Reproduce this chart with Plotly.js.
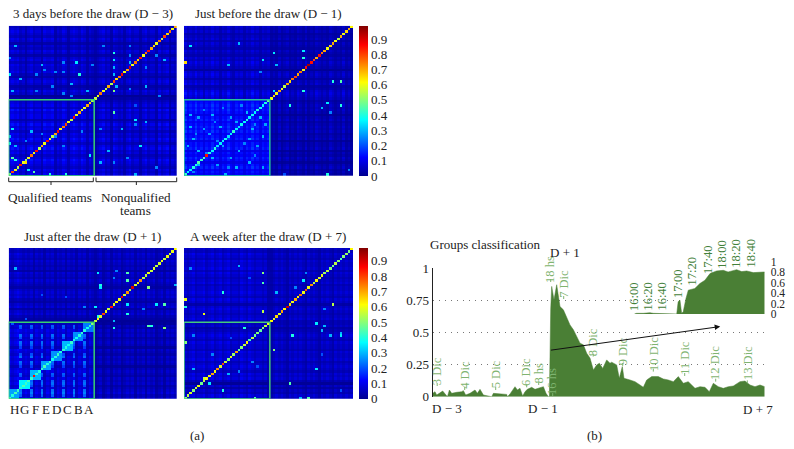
<!DOCTYPE html>
<html><head><meta charset="utf-8">
<script src="https://cdn.plot.ly/plotly-3.0.1.min.js"></script>
<style>html,body{margin:0;padding:0;background:#fff}#c{width:794px;height:449px}
.heatmaplayer image{filter:blur(.45px)}</style></head>
<body><div id="c"></div>
<script>
// ---------- correlation matrices: values ----------
const teamCount = 63, qualifiedCount = 32;
const panelTitles = ['3 days before the draw (D \u2212 3)','Just before the draw (D \u2212 1)','Just after the draw (D + 1)','A week after the draw (D + 7)'];
const colorbarTicks = [0,0.1,0.2,0.3,0.4,0.5,0.6,0.7,0.8,0.9];
const groupLetters = ['H','G','F','E','D','C','B','A'];

// diagonal, bottom-left to top-right
const diagD3 = [.5,.8,.6,.55,.85,.6,.5,.6,.75,.6,.85,.55,.7,.6,.85,.6,.55,.7,.85,.6,.75,.8,.6,.55,.85,.6,.7,.6,.6,.7,.65,.55,
 .55,.6,.75,.6,.55,.7,.55,.8,.65,.75,.85,.6,.7,.9,.6,.75,.65,.85,.6,.75,.85,.7,.65,.6,.75,.55,.8,.65,.75,.6,.7];
const diagD1 = [.42,.36,.36,.4,.4,.45,.42,.45,.85,.4,.36,.4,.34,.36,.36,.38,.34,.36,.42,.36,.34,.38,.36,.4,.36,.38,.36,.4,.38,.36,.4,.48,
 .6,.65,.6,.7,.6,.55,.7,.65,.75,.8,.7,.75,.6,.85,.95,.85,.8,.7,.85,.75,.7,.6,.65,.7,.6,.55,.7,.6,.65,.7,.62];
const diagP1 = [.42,.4,.44,.42,.4,.45,.42,.44,.42,.85,.42,.4,.42,.44,.4,.42,.38,.4,.42,.4,.42,.4,.38,.42,.4,.38,.4,.42,.4,.38,.42,.5,
 .56,.62,.58,.8,.6,.56,.85,.58,.62,.6,.88,.58,.72,.56,.9,.58,.6,.72,.55,.56,.6,.56,.58,.55,.58,.6,.55,.6,.58,.6,.62];
const diagP7 = [.5,.55,.58,.5,.56,.6,.48,.55,.62,.6,.7,.6,.72,.58,.8,.56,.5,.6,.52,.7,.46,.5,.56,.62,.44,.55,.48,.5,.46,.5,.55,.6,
 .62,.58,.65,.6,.7,.62,.92,.65,.6,.7,.62,.75,.6,.78,.6,.72,.55,.62,.58,.6,.52,.55,.5,.48,.55,.5,.44,.5,.52,.48,.62];

// row and column texture levels, rows from the bottom
const rowsD3 = [4,3,4,2,3,4,5,3,2,4,3,5,4,2,4,5,3,4,2,4,3,5,3,1,4,4,3,5,2,4,3,2, 1,0,3,4,2,1,3,4,3,1,2,4,3,3,4,2,4,3,1,3,4,2,3,1,3,4,2,3,4,3,2];
const colsD3 = [3,4,3,4,2,3,1,3,4,2,3,3,1,4,3,3,4,1,3,2,4,3,1,3,4,3,2,4,3,1,3,2, 1,2,3,4,2,3,1,4,3,2,3,1,3,4,2,3,3,1,3,4,2,3,3,1,4,2,3,4,1,3,2];
const rowsD1 = [2,3,2,4,3,1,3,4,2,3,1,4,3,3,1,4,3,2,4,3,4,3,2,4,3,1,3,4,3,4,3,2, 3,4,5,4,2,1,4,3,1,3,4,3,0,2,3,4,2,3,1,2,3,1,2,3,1,3,2,1,3,2,3];
const colsD1 = [4,2,3,2,4,2,3,1,3,2,4,2,3,1,3,2,4,2,1,3,2,3,1,3,2,4,2,3,1,3,2,3, 1,2,1,3,1,2,3,1,2,1,3,2,1,3,1,2,1,3,2,1,2,1,3,2,1,2,1,3,1,2,1];
const rowsP1 = [4,3,5,4,3,2,4,3,4,2,3,4,3,1,3,4,3,4,2,3,4,1,3,4,3,2,4,3,4,2,3,1, 0,1,2,4,3,1,4,3,1,2,4,3,4,3,1,2,3,4,2,3,4,1,3,2,3,4,2,3,4,2,3];
const colsP1 = [3,2,3,4,3,2,3,2,3,1,3,2,3,1,3,2,3,1,3,2,3,1,3,2,3,1,3,2,3,1,3,2, 1,2,3,1,2,3,1,3,2,3,1,2,3,2,3,1,3,2,3,1,3,2,3,1,2,3,1,3,2,3,2];
const rowsP7 = [3,4,2,3,1,3,0,2,4,3,4,2,3,4,3,2,4,3,3,4,2,3,3,4,2,3,4,3,2,1,3,2, 2,4,3,2,3,4,3,1,3,4,2,3,4,3,3,2,4,3,2,3,4,2,4,3,3,4,2,3,4,2,3];
const colsP7 = [3,2,3,4,2,3,3,4,2,3,4,2,3,4,2,3,4,2,3,3,2,4,3,2,4,3,2,3,3,2,3,1, 1,2,3,2,3,2,1,3,2,3,2,3,2,1,3,2,3,2,1,3,2,3,2,1,3,2,3,2,3,2,3];

// extra level of the four quadrants: [qualified/qualified, nonqualified x / qualified y, qualified x / nonqualified y, nonqualified/nonqualified]
const quadD3 = [.02,.01,.01,.01], quadD1 = [.08,.0,.02,.01], quadP1 = [.03,.0,.01,.01], quadP7 = [.01,.01,.01,.01];

// bright off-diagonal cells: [column, row, value]
const spotsD3 = [[2,54,.3],[0,49,.25],[12,46,.3],[20,47,.25],[25,47,.35],[31,46,.25],[39,51,.4],[39,48,.35],[39,45,.3],[45,50,.25],[45,47,.3],[0,42,.35],[26,42,.4],[4,40,.3],[10,42,.25],[13,44,.25],[17,43,.25],[20,43,.25],[39,42,.3],[35,54,.25],[45,54,.25],[55,50,.25],[58,48,.3],[51,45,.25],[39,35,.5],[16,37,.25],[23,38,.3],[29,35,.3],[1,35,.3],[10,35,.25],[20,34,.25],[23,33,.25],[40,37,.3],[45,36,.25],[51,37,.3],[56,33,.25],[47,29,.2],[39,26,.45],[47,23,.35],[51,22,.3],[47,21,.25],[42,19,.3],[34,19,.25],[49,12,.35],[37,10,.3],[34,5,.3],[47,0,.3],[39,5,.25],[44,7,.25],[55,3,.25],[1,19,.35],[0,13,.35],[0,16,.3],[6,5,.65],[5,5,.42],[1,7,.45],[2,6,.4],[7,2,.35],[9,1,.45],[15,0,.4],[21,0,.4],[30,8,.35],[20,12,.25],[17,16,.25],[12,17,.25],[8,18,.3],[6,14,.25],[2,12,.3],[27,18,.25]];
const spotsD1 = [[2,54,.35],[0,47,.65],[20,55,.3],[33,51,.35],[44,52,.35],[44,49,.4],[29,48,.35],[34,46,.3],[16,46,.3],[28,43,.25],[55,39,.4],[58,39,.45],[39,39,.4],[33,35,.35],[44,35,.4],[39,29,.4],[53,30,.35],[51,28,.3],[58,29,.4],[54,26,.25],[53,0,.4],[61,2,.25],[37,0,.2],
 [2,25,.3],[5,24,.28],[10,25,.3],[17,24,.28],[23,26,.3],[28,24,.3],[2,20,.3],[7,19,.28],[13,20,.3],[19,22,.28],[25,19,.3],[30,21,.28],[3,15,.3],[9,17,.28],[15,15,.3],[24,15,.28],[29,16,.3],[1,12,.3],[5,10,.3],[14,12,.28],[20,10,.3],[27,12,.28],[10,7,.3],[17,7,.28],[24,5,.3],[5,4,.3],[15,0,.3],[29,3,.28],[19,3,.3],[12,4,.28],[7,27,.25],[14,28,.25],[21,29,.25],[26,21,.25],[11,22,.25],[4,17,.25],[18,18,.25],[22,13,.25],[8,9,.25],[16,3,.25],[26,8,.25],[3,1,.25],[12,14,.25]];
const spotsP1 = [[2,54,.3],[33,52,.35],[44,52,.45],[44,49,.45],[34,47,.4],[34,46,.35],[39,50,.25],[40,53,.25],[52,46,.5],[62,47,.3],[32,38,.35],[39,39,.4],[44,39,.35],[55,39,.35],[58,39,.45],[50,37,.25],[33,34,.4],[44,35,.4],[39,29,.4],[52,30,.45],[53,30,.4],[58,29,.5],[39,32,.3],[12,43,.2],[21,42,.2],[28,38,.25],[6,33,.2],[1,31,.2]];
const spotsP7 = [[2,54,.25],[20,55,.3],[29,52,.5],[29,48,.45],[24,50,.2],[14,44,.4],[0,41,.6],[0,38,.4],[7,35,.6],[29,36,.55],[44,49,.35],[45,52,.25],[34,44,.3],[41,46,.25],[55,39,.55],[52,37,.25],[49,31,.35],[52,30,.3],[51,28,.3],[22,29,.4],[40,26,.4],[54,26,.3],[58,26,.35],[58,27,.3],[0,23,.5],[3,26,.25],[33,20,.5],[49,12,.35],[51,18,.2],[39,6,.45],[46,0,.45],[43,0,.3],[26,0,.45],[14,3,.4],[7,8,.55],[9,6,.35],[3,12,.3],[16,10,.3],[20,11,.25],[10,18,.25],[17,25,.2],[25,15,.25],[27,13,.2],[58,3,.2]];

// D + 1 only: the eight groups along the diagonal and the dashed columns between them
const groupBlockLevels = [.28,.36,.3,.28,.26,.3,.26,.24];
const dashedColumns = [4,8,12,16,20,24,28];
const dashedRows = [1,2,3,5,6,7,9,10,13,14,15,17,18,21,22,23,25,26,29,30];

// ---------- area chart ----------
const areaPos = [0,2.3,4,7.3,10,13.3,14.7,16.7,19,24,29,30.7,33,37.3,42.3,44.7,47.3,50.7,57.3,59,60.7,67.3,74,74.7,77.3,82.3,84.7,87.3,90,92.3,94.7,99,102.3,107.3,110.7,113.3,115.7,116.7,117,118,119,121.3,124,127.3,130.7,134,137.3,140.7,144,147.3,150.7,154,157.3,160.7,164,166.7,170,174,177.3,179,184,186.6,189.6,191.3,197.3,202.3,207.3,210.6,214,219,225.6,230.6,235.6,240.6,245.6,250.6,255.6,262.3,267.3,272.3,276.6,280.6,285.6,290.6,295.6,300.6,307.3,312.3,317.3,322.3,327.3,332];
const areaVal = [.026,.039,.013,.034,.044,.013,0,.052,.026,.034,.039,.047,.013,.026,.052,.026,.057,.013,.005,0,.026,.021,.018,0,.021,.078,.052,.065,.005,.039,.057,.073,.057,.07,.078,.026,0,0,.36,.68,.857,.753,.87,.70,.675,.61,.558,.52,.468,.416,.403,.338,.30,.208,.247,.26,.22,.286,.26,.268,.247,.143,.234,.143,.13,.117,.091,.073,.13,.156,.156,.138,.13,.117,.156,.104,.117,.065,.078,.073,.039,.104,.078,.065,.078,.083,.117,.122,.091,.078,.091,.078];
const areaTicks = [0,.25,.5,.75,1], areaTickText = ['0','0.25','0.5','0.75','1'];
// rotated date labels: [text, position, value at its centre, value at its tick]
const dateLabels = [['3 Dic',4.5,.2,.083],['4 Dic',32,.168,.052],['5 Dic',63,.172,.052],['6 Dic',94,.19,.073],['8 hs',106,.185,.091],['16 hs',120,.12,.005],['18 hs',118,.99,.891],['7 Dic',131,.875,.759],['8 Dic',160.5,.425,.312],['9 Dic',190,.35,.239],['10 Dic',220.6,.335,.195],['11 Dic',252,.3,.161],['12 Dic',283,.26,.117],['13 Dic',314.6,.264,.104]];

// ---------- inset: minutes after 16:00 ----------
const insetMin = [1.4,4.6,13.8,23,27.6,36.9,46,53,60,62,64.5,66.8,69,72.8,76,85,92,99,106,115,124.4,131,142.9,149.8,156.7,165.9,175,181.6];
const insetVal = [0,.013,.013,.025,.013,.013,.013,.013,0,.236,.268,.013,.045,.3,.459,.49,.586,.65,.777,.828,.84,.809,.853,.815,.828,.796,.809,.809];
const insetTicks = [0,.2,.4,.6,.8,1];
const insetLabels = ['16:00','16:20','16:40','17:00','17:20','17:40','18:00','18:20','18:40'];

// ---------- page geometry ----------
const W=794,H=449, px=x=>x/W, py=y=>1-y/H;
const serif='"Liberation Serif", serif';
const jet=[[0,'#00008f'],[.125,'#0000ff'],[.375,'#00ffff'],[.625,'#ffff00'],[.875,'#ff0000'],[1,'#800000']];
const insetLabelX=[633.3,648.3,662.3,677.3,691.7,707.3,721.7,736,750.7], insetLabelY=[296.7,296.3,296.3,283.7,271.7,259.7,255,253.7,253.7];

function buildMatrix(rows,cols,quad,diag,spots,withGroups){
  const z=[];
  for(let r=0;r<teamCount;r++){
    const line=[];
    for(let c=0;c<teamCount;c++){
      const qi=(r<qualifiedCount?0:2)+(c<qualifiedCount?0:1);
      line.push(rows[r]*cols[c]/165+quad[qi]);
    }
    z.push(line);
  }
  if(withGroups){
    dashedColumns.forEach(c=>dashedRows.forEach(r=>{z[r][c]+=.13;}));
    groupBlockLevels.forEach((v,g)=>{for(let r=g*4;r<g*4+4;r++)for(let c=g*4;c<g*4+4;c++)z[r][c]=Math.max(z[r][c],v);});
  }
  spots.forEach(s=>{z[s[1]][s[0]]=s[2];});
  diag.forEach((v,i)=>{z[i][i]=v;});
  return z;
}
const matrices=[buildMatrix(rowsD3,colsD3,quadD3,diagD3,spotsD3,false),
                buildMatrix(rowsD1,colsD1,quadD1,diagD1,spotsD1,false),
                buildMatrix(rowsP1,colsP1,quadP1,diagP1,spotsP1,true),
                buildMatrix(rowsP7,colsP7,quadP7,diagP7,spotsP7,false)];
const panelBox=[[8.7,177,25.7,176],[184,353,25.7,176],[8.7,177,248,398.7],[184,353,248,398.7]];
const boxColor=['#38d070','#22c29e','#38d070','#44c87c'];
const titleX=[92.5,268,92.5,268], titleY=[13.5,13.5,236.5,236.5];

const layout={width:W,height:H,margin:{l:0,r:0,t:0,b:0,autoexpand:false},paper_bgcolor:'#fff',plot_bgcolor:'rgba(0,0,0,0)',showlegend:false,
  font:{family:serif,size:13,color:'#222'},annotations:[],shapes:[]};
const data=[];
matrices.forEach((z,i)=>{
  const id=i?String(i+1):'', b=panelBox[i];
  const tr={type:'heatmap',z,xaxis:'x'+id,yaxis:'y'+id,colorscale:jet,zmin:0,zmax:.985,showscale:i%2===1,hoverinfo:'skip'};
  if(i%2===1) tr.colorbar={x:px(359),xref:'paper',xanchor:'left',y:py(b[3]),yref:'paper',yanchor:'bottom',len:b[3]-b[2],lenmode:'pixels',thickness:9,thicknessmode:'pixels',xpad:0,ypad:0,outlinewidth:0,borderwidth:0,ticks:'',tickmode:'array',tickvals:colorbarTicks,ticktext:colorbarTicks.map(String),tickfont:{family:serif,size:13,color:'#222'}};
  data.push(tr);
  layout['xaxis'+id]={domain:[px(b[0]),px(b[1])],range:[-.5,teamCount-.5],visible:false,anchor:'y'+id,fixedrange:true};
  layout['yaxis'+id]={domain:[py(b[3]),py(b[2])],range:[-.5,teamCount-.5],visible:false,anchor:'x'+id,fixedrange:true};
  layout.shapes.push({type:'rect',xref:'x'+id,yref:'y'+id,x0:-.5,x1:qualifiedCount-.5,y0:-.5,y1:qualifiedCount-.5,line:{color:boxColor[i],width:1.5},layer:'above'});
  layout.annotations.push({xref:'paper',yref:'paper',x:px(titleX[i]),y:py(titleY[i]),text:panelTitles[i],showarrow:false,xanchor:'center',yanchor:'middle',font:{family:serif,size:13,color:'#222'}});
});

// area
data.push({type:'scatter',mode:'lines',x:areaPos,y:areaVal,xaxis:'x5',yaxis:'y5',fill:'tozeroy',fillcolor:'#4a7f35',line:{color:'#4a7f35',width:.5},hoverinfo:'skip'});
layout.xaxis5={domain:[px(432.7),px(764.7)],range:[0,332],visible:false,anchor:'y5',fixedrange:true};
layout.yaxis5={domain:[py(396.7),py(268)],range:[0,1],anchor:'x5',tickmode:'array',tickvals:areaTicks,ticktext:areaTickText,showline:true,linecolor:'#222',linewidth:1,ticks:'',showgrid:true,gridcolor:'#777',griddash:'1px,5px',gridwidth:1,zeroline:false,tickfont:{family:serif,size:13,color:'#222'},fixedrange:true};
// inset
data.push({type:'scatter',mode:'lines',x:insetMin,y:insetVal,xaxis:'x6',yaxis:'y6',fill:'tozeroy',fillcolor:'#4a7f35',line:{color:'#4a7f35',width:.5},hoverinfo:'skip'});
layout.xaxis6={domain:[px(634.3),px(764.7)],range:[1.4,181.6],visible:false,anchor:'y6',fixedrange:true};
layout.yaxis6={domain:[py(314),py(262)],range:[0,1],anchor:'x6',side:'right',tickmode:'array',tickvals:insetTicks,ticktext:insetTicks.map(String),ticklabelstandoff:5,showgrid:false,zeroline:false,ticks:'',tickfont:{family:serif,size:11.5,color:'#222'},fixedrange:true};

const dim='#7fb470', deep='#43813a';
dateLabels.forEach(l=>{
  layout.annotations.push({xref:'x5',yref:'y5',x:l[1],y:l[2],text:l[0],textangle:-90,showarrow:false,xanchor:'center',yanchor:'middle',font:{family:serif,size:12.5,color:dim}});
  layout.shapes.push({type:'line',xref:'x5',yref:'y5',x0:l[1],x1:l[1],y0:l[3],y1:l[3]+.023,line:{color:dim,width:1}});
});
insetLabels.forEach((t,i)=>layout.annotations.push({xref:'paper',yref:'paper',x:px(insetLabelX[i]),y:py(insetLabelY[i]),text:t,textangle:-90,showarrow:false,xanchor:'center',yanchor:'middle',font:{family:serif,size:12.5,color:deep}}));
// arrow from the D + 1 jump
layout.annotations.push({xref:'x5',yref:'y5',axref:'x5',ayref:'y5',ax:116.7,ay:.36,x:287.5,y:.545,text:'',showarrow:true,arrowhead:2,arrowsize:1.1,arrowwidth:1,arrowcolor:'#111'});

function note(t,x,y,size){layout.annotations.push({xref:'paper',yref:'paper',x:px(x),y:py(y),text:t,showarrow:false,xanchor:'center',yanchor:'middle',font:{family:serif,size:size||13,color:'#222'}});}
note('Qualified teams',50,197,13.2);
note('Nonqualified',135.5,197,13.2);
note('teams',135.5,210.5,13.2);
note('(a)',197,435);
note('(b)',594.5,435);
note('Groups classification',486,244);
note('D + 1',565,252);
note('D \u2212 3',447,408.5);
note('D \u2212 1',543,408.5);
note('D + 7',758,409);
groupLetters.forEach((t,i)=>layout.annotations.push({xref:'x3',yref:'paper',x:4*i+1.5,y:py(409),text:t,showarrow:false,xanchor:'center',yanchor:'middle',font:{family:serif,size:13,color:'#222'}}));

// brackets under the first panel
function bracket(a,b){
  const m=(a+b)/2,t=py(177.5),u=py(181.7),v=py(185);
  [[a,t,a,u],[a,u,b,u],[b,u,b,t],[m,u,m,v]].forEach(s=>layout.shapes.push({type:'line',xref:'paper',yref:'paper',x0:px(s[0]),y0:s[1],x1:px(s[2]),y1:s[3],line:{color:'#222',width:1}}));
}
bracket(8.7,93.3); bracket(96,176.7);

Plotly.newPlot('c',data,layout,{staticPlot:true,displayModeBar:false});
</script></body></html>
